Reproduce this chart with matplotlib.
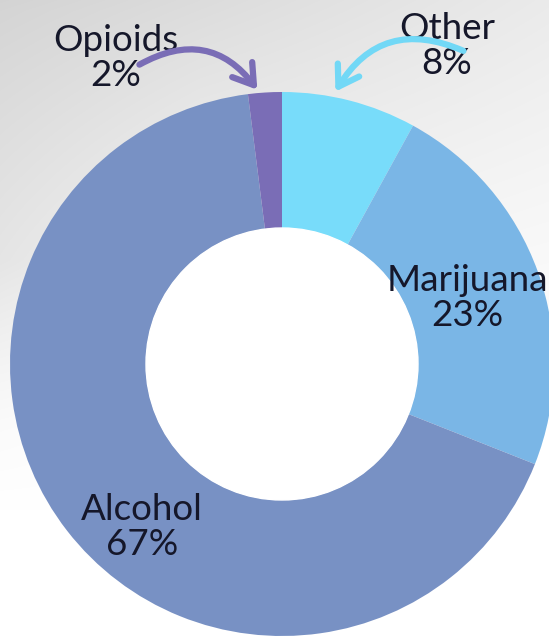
import numpy as np
import matplotlib.pyplot as plt
from matplotlib.patches import FancyArrowPatch

# data (clockwise from 12 o'clock)
labels = ['Other', 'Marijuana', 'Alcohol', 'Opioids']
shares = [8, 23, 67, 2]
colors = ['#78dcfa', '#7ab6e6', '#7891c4', '#7a6db6']

W, H = 549, 637
fig = plt.figure(figsize=(W / 100, H / 100), dpi=100)
ax = fig.add_axes([0, 0, 1, 1])

# grey backdrop, darker at the top left, fading to white lower down
yy, xx = np.mgrid[0:H, 0:W]
fade = np.clip(1 - yy / 430.0, 0, 1) ** 1.3
shade = 1 - fade * (0.17 - 0.09 * xx / W) - 0.05 * np.clip(1 - xx / 200.0, 0, 1) * np.clip(1 - abs(yy - 260) / 250.0, 0, 1)
bg = np.dstack([shade] * 3)
ax.imshow(bg, extent=(0, W, 0, H), origin='upper', zorder=0, aspect='auto')

cx, cy, r = 282, H - 364, 272
ax.pie(shares, colors=colors, startangle=90, counterclock=False,
       radius=r, center=(cx, cy), frame=True,
       wedgeprops=dict(width=r / 2, linewidth=0))
ax.set_xlim(0, W)
ax.set_ylim(0, H)
ax.axis('off')
# white hole
ax.add_patch(plt.Circle((cx, cy), r / 2, color='white', zorder=3))

txt = dict(family='Lato', fontsize=26.5, color='#15172a',
           ha='center', va='center', linespacing=1.08, zorder=5)
ax.text(116, H - 58, 'Opioids\n2%', **txt)
ax.text(447, H - 46, 'Other\n8%', **txt)
ax.text(467, H - 298, 'Marijuana\n23%', **txt)
ax.text(142, H - 527, 'Alcohol\n67%', **txt)

arrow_kw = dict(lw=4.5, capstyle='round', joinstyle='round', zorder=6)
a1 = FancyArrowPatch((137, H - 66), (259, H - 92),
                     connectionstyle='arc3,rad=-0.45',
                     arrowstyle='->,head_length=14,head_width=9',
                     color='#7a6db6', **arrow_kw)
a2 = FancyArrowPatch((466, H - 52), (334, H - 94),
                     connectionstyle='arc3,rad=0.45',
                     arrowstyle='->,head_length=14,head_width=9',
                     color='#72d8f6', **arrow_kw)
ax.add_patch(a1)
ax.add_patch(a2)

fig.savefig('out.png', dpi=100)
